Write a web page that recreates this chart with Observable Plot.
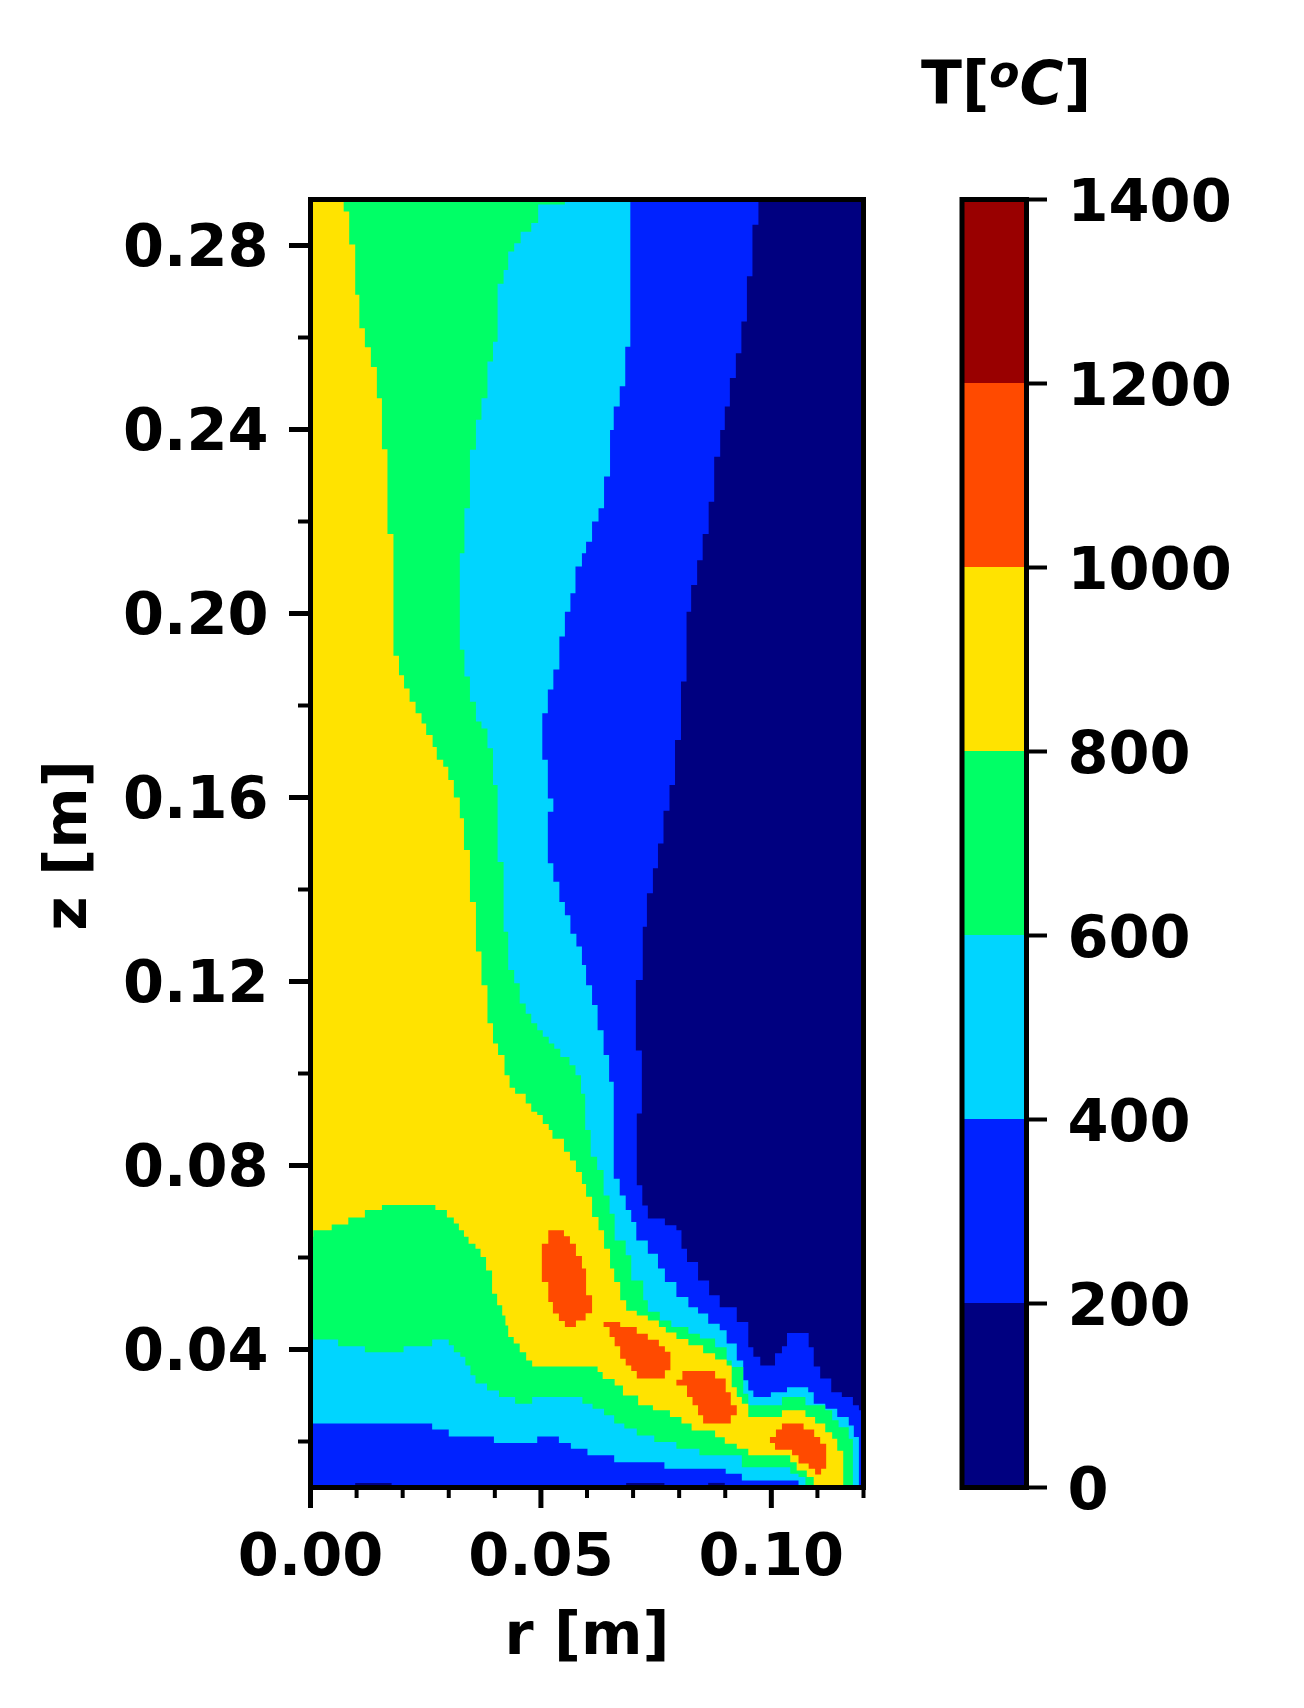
<!DOCTYPE html>
<html><head><meta charset="utf-8">
<script src="https://cdn.jsdelivr.net/npm/d3@7"></script>
<script src="https://cdn.jsdelivr.net/npm/@observablehq/plot@0.6"></script>
<style>
html,body{margin:0;padding:0;background:#fff;width:1304px;height:1708px;overflow:hidden}
#chart{position:relative;width:1304px;height:1708px;font-family:"DejaVu Sans"}
#chart svg{position:absolute;left:0;top:0;filter:blur(.7px)}
#unit{position:absolute;left:921px;top:47px;font:700 60px "DejaVu Sans";line-height:72px;color:#000;white-space:nowrap;filter:blur(.6px)}
#unit i{font-style:oblique}
#unit sup{font-size:44px;line-height:0;vertical-align:17px;font-style:oblique}
</style></head><body>
<div id="chart"><div id="unit">T[<sup>o</sup><i>C</i>]</div></div>
<script>
// band levels and colours (lower edge of each 200 degree band)
const levels = [200,400,600,800,1000,1200];
const bandColors = ["#000080","#0022ff","#00d5ff","#00ff66","#ffe300","#ff4a00","#990000"];
const barBands = [0,200,400,600,800,1000,1200];
const xMajor = [0,0.05,0.10];
const xMinor = [0.01,0.02,0.03,0.04,0.06,0.07,0.08,0.09,0.11,0.12];
const yMajor = [0.04,0.08,0.12,0.16,0.20,0.24,0.28];
const yMinor = [0.02,0.06,0.10,0.14,0.18,0.22,0.26];
const barTicks = [0,200,400,600,800,1000,1200,1400];

// isotherm outlines, [r mm, z mm]
const under200 = [[0,290],[120,290],[120,10],[0,10]];
const from200 = [[0,290],[97.2,290],[95.9,284.5],[94.7,273.3],[93.5,263.5],[92.3,256.6],[91,251.2],[89.9,245],[88.9,239.9],[87.6,234.1],[86.4,224.3],[85.1,217.3],[83.9,211.6],[82.6,206.2],[81.6,200.4],[80.4,185.2],[79.1,172.5],[77.9,162.7],[76.6,157.1],[75.4,150],[74.3,144.6],[73,139.2],[72.1,131.9],[70.6,120.3],[71.9,105],[70.8,91.3],[72,75.7],[73.2,71.3],[76.9,68.5],[79.4,67],[80.5,65.9],[81.7,61.9],[84.1,59],[86.5,55],[88.8,51.8],[92.5,49.2],[95,46],[96.1,40.5],[97.6,38.4],[100.8,36.5],[102.3,39.2],[103.4,40.7],[108.1,43.6],[109.2,40.5],[110.6,36.3],[113,33.7],[115.3,30.7],[117.7,29.7],[119,27.9],[119.6,26.8],[119.6,10],[0,10]];
const from400 = [[0,290],[69.4,290],[68.3,258],[67.1,249.4],[65.8,245],[65,239.9],[63.7,229.8],[62.5,222.9],[61.1,220],[59.8,215.6],[58.9,213.1],[57.5,210.2],[56.4,204.4],[55.2,200.4],[54,195],[52.7,187.8],[51.5,183.5],[50.3,178.3],[51.5,168.2],[52.7,159.8],[51.5,156.9],[52.7,145.7],[54,141.7],[55.2,137.3],[56.4,134.4],[57.7,130.4],[58.9,127.6],[59.8,123.6],[61.1,119.2],[62.3,114.9],[63.6,109.4],[64.8,104],[65.8,98.2],[67.1,77.1],[68.4,73.5],[69.6,70.3],[70.7,67.7],[73.2,63.7],[75.4,60.8],[76.9,57.6],[79.4,54.7],[82,51.4],[84.1,49.2],[86.3,47.8],[88.8,45.6],[90.3,44.2],[92.5,41.3],[93.9,37.6],[95,33.3],[96.1,31.1],[99.9,29.7],[103.4,30.7],[108,31.8],[109.2,30.7],[111.7,28.2],[114.3,27.1],[116.8,25.3],[117.9,23.5],[119,21],[119,10],[105.9,10],[102.3,11.5],[93.6,11.5],[90.1,13],[76.8,14.1],[65.9,15.5],[60.1,17],[56.5,18.4],[53.9,19.7],[49.2,21.1],[39.8,19.7],[30,21.1],[26.4,22.6],[0,23.9]];
const from600 = [[0,290],[55.2,290],[49.4,288.9],[47.9,284.9],[45.6,283],[44.2,280.5],[42.9,278.7],[41.9,274.7],[40.6,271.7],[39.6,259.1],[38.4,254.8],[37.1,246.8],[35.9,242.1],[34.6,235.6],[33.4,222.9],[32.4,213.1],[33.4,192.1],[34.6,186.3],[35.9,180.8],[37.1,176.5],[38.4,175],[39.6,170.7],[40.6,162.7],[41.9,146],[42.9,130.8],[44.2,122.5],[45.4,119.6],[46.7,115.2],[47.9,113],[49.2,110.9],[50.4,109.4],[51.7,108],[52.9,106.5],[54.2,105.4],[56.2,103.6],[57.5,101.8],[58.7,99.6],[59.6,95.6],[60.8,87.7],[62.2,81.9],[63.6,79],[64.9,73.5],[66,69.5],[68.4,63.7],[69.6,60.5],[72.2,55],[73.2,50.7],[75.8,48.2],[78.3,46.3],[82,44.9],[84.5,43.4],[87.8,42.4],[90.3,40.5],[91.4,37.6],[93.9,36.2],[95,30.4],[102.3,27.9],[107.4,29.7],[111.7,27.9],[113.2,26.8],[114.6,24.6],[116.8,23.1],[117.7,20.6],[117.7,10],[107.4,10],[105.9,12.3],[104.1,13],[102.3,14.4],[93.6,14.4],[89.9,17],[84.4,17],[79.4,18.4],[74.6,19.9],[70.8,21.3],[68.1,22.8],[65.9,23.9],[63.7,25.7],[61.2,27.1],[59,28.2],[48.1,29.7],[44.4,28.2],[40.9,29.7],[38.3,31.1],[35.8,32.6],[34.7,34.4],[33.6,36.5],[32.5,38.4],[31.1,39.4],[30,40.9],[26.4,42.2],[20.2,40.7],[11.8,39.4],[6,40.7],[0.6,42.2],[0,43.4]];
const from800 = [[0,290],[7.2,290],[8.4,287.4],[9.7,280.2],[10.6,269.3],[11.8,262],[13.1,257.9],[14.4,253.6],[15.5,246.8],[16.7,235.7],[18,217.3],[19.2,190.8],[20.3,186.6],[21.5,183.7],[22.8,180.8],[24.1,178.3],[25.1,176.1],[26.5,173.6],[27.4,171],[28.8,168.2],[29.9,166.7],[31.1,163.8],[32.4,160],[33.3,155.5],[34.6,148.6],[35.9,137.3],[37.1,126.5],[38.4,119.2],[39.6,110.9],[40.7,106.5],[42.1,104],[43.2,99.6],[44.4,96.9],[46.7,95.6],[47.9,93.5],[49.2,91.7],[50.4,91],[51.7,89],[52.5,87.7],[55,85.8],[56.3,83],[57.6,81.1],[58.9,78.6],[59.8,76],[61.1,73.2],[62.5,68.8],[63.7,65.9],[65,61.9],[65.9,57.6],[67.2,54.7],[68.5,50.7],[70.8,48.4],[73.2,47.4],[75.6,46.3],[77.1,44.9],[79.4,43.7],[82,42.3],[85.2,40.9],[87.8,39.2],[90.3,37.8],[91.4,36.5],[92.5,31.8],[93.6,29.7],[95,28.2],[102.3,25.3],[107.4,26.8],[109.5,25.3],[111.7,23.9],[113.2,22],[114.3,20.6],[115.6,18],[115.6,10],[109.2,10],[107.7,12.3],[105.5,13.7],[104.1,15.5],[102.3,17],[95,17],[92.5,18.4],[89.9,19.5],[87.8,20.9],[82.7,22.4],[80.5,23.9],[78,25.3],[74.3,26.8],[71.1,27.9],[67.8,30],[66,32.2],[63.4,33.6],[62.3,35.1],[60.9,36.3],[48.1,36.3],[46.8,37.6],[45.4,39.4],[44.1,41.3],[42.9,42.7],[42.3,45.2],[41.6,47.4],[40.5,49.6],[39.4,52.1],[38.1,57.2],[36.9,60.1],[35.8,61.9],[34.3,63],[33.3,64.5],[32.2,65.9],[31.1,67.4],[29.6,68.7],[27.1,70.3],[24.9,71.4],[15.5,71.4],[11.8,70.3],[8.2,68.7],[4.6,67.2],[0.6,65.9],[0,64.5]];
const hotSpotA = [[51.6,65.9],[55,65.9],[56.3,64.6],[57.6,63],[58.9,60.3],[59.8,57.6],[61.1,51.8],[59.7,47.9],[57.6,46.3],[55.2,44.9],[53.9,46.2],[52.6,47.8],[51.6,50.3],[50.2,54.7],[51.6,63]];
const hotSpotB = [[63.6,46],[67.2,46],[70.8,44.9],[73.2,43.4],[75.6,42.1],[76.9,40.7],[78.1,39.5],[76.9,35.5],[70.8,33.7],[69.6,35.3],[68.4,36.5],[67.2,38],[66,40.7],[64.9,42.7],[63.6,44.9]];
const hotSpotC = [[80.7,35.3],[87.8,35.3],[90.1,33.7],[91.2,30.7],[92.5,27.9],[91.2,25.7],[85.2,23.9],[84.1,25.7],[82.9,27.9],[81.7,29.7],[79.4,32.2],[80.7,33.4]];
const hotSpotD = [[102.3,23.9],[107,23.9],[109.3,22.6],[110.6,21],[111.9,19.5],[110.8,14.1],[109.5,12.8],[108.1,14.1],[105.9,15.2],[104.5,17],[100.8,18.2],[99.7,19.7],[101,21],[102.3,22.6]];
const coolFloorA = [[9.7,11],[17.6,11],[17.6,10],[9.7,10]];
const coolFloorB = [[68.5,11],[76.8,11],[76.8,10],[68.5,10]];
const coolFloorC = [[86.3,11],[89.9,11],[89.9,10],[86.3,10]];

const regions = [
  ["a",100,under200],["b",300,from200],["c",500,from400],["d",700,from600],["e",900,from800],
  ["f",1100,hotSpotA],["g",1100,hotSpotB],["h",1100,hotSpotC],["i",1100,hotSpotD],
  ["j",100,coolFloorA],["k",100,coolFloorB],["l",100,coolFloorC]
];
const outline = regions.flatMap(([id,T,pts]) => pts.map(([r,z]) => ({id,T,r:r/1000,z:z/1000})));

const color = {type:"threshold",domain:levels,range:bandColors};
const font = {fontFamily:"DejaVu Sans",fontWeight:700,fontSize:59};
const base = {width:1304,height:1708,style:{background:"transparent",overflow:"visible"}};
const ink = {stroke:"#000",label:null};
const blank = () => "";

const main = Plot.plot({...base,
  marginLeft:310,marginRight:441,marginTop:199,marginBottom:221,
  x:{domain:[0,0.12]},y:{domain:[0.01,0.29]},color,
  marks:[
    Plot.line(outline,{x:"r",y:"z",z:"id",fill:"T",stroke:"none",curve:"step-before"}),
    Plot.frame({stroke:"#000",strokeWidth:5}),
    Plot.axisX({ticks:xMinor,tickSize:11,strokeWidth:4,tickFormat:blank,...ink}),
    Plot.axisX({ticks:xMajor,tickSize:21,strokeWidth:5,tickPadding:25,tickFormat:d3.format(".2f"),fill:"#000",...ink,...font}),
    Plot.axisY({ticks:yMinor,tickSize:12,strokeWidth:4,tickFormat:blank,...ink}),
    Plot.axisY({ticks:yMajor,tickSize:21,strokeWidth:5,tickFormat:blank,...ink}),
    Plot.axisY({ticks:yMajor,tickSize:0,tickPadding:42,dy:2,tickFormat:d3.format(".2f"),fill:"#000",stroke:"none",label:null,...font}),
    Plot.text(["r [m]"],{frameAnchor:"bottom",dy:166,lineAnchor:"bottom",fill:"#000",...font}),
    Plot.text(["z [m]"],{frameAnchor:"left",dx:-243,dy:2,rotate:-90,textAnchor:"middle",fill:"#000",...font})
  ]
});
const bar = Plot.plot({...base,
  marginLeft:961.5,marginRight:278,marginTop:199,marginBottom:221,
  x:{domain:[0,1],axis:null},y:{domain:[0,1400]},color,
  marks:[
    Plot.rect(barBands,{x1:()=>0,x2:()=>1,y1:d=>d,y2:d=>d+200,fill:d=>d+100}),
    Plot.frame({stroke:"#000",strokeWidth:5}),
    Plot.axisY({anchor:"right",ticks:barTicks,tickSize:20,strokeWidth:4,tickFormat:blank,...ink}),
    Plot.axisY({anchor:"right",ticks:barTicks,tickSize:0,tickPadding:41,dy:3,tickFormat:d=>String(d),fill:"#000",stroke:"none",label:null,...font})
  ]
});
const root = document.getElementById("chart");
root.append(main,bar);
</script>
</body></html>
